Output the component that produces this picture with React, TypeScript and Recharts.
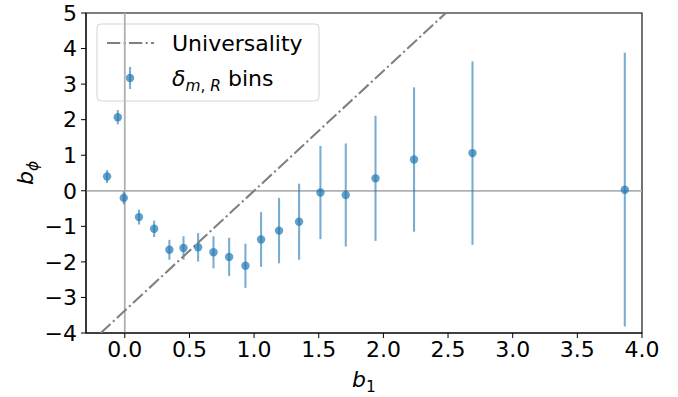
import React from 'react';
import {
  ScatterChart,
  Scatter,
  XAxis,
  YAxis,
  ErrorBar,
  ReferenceLine,
  ReferenceArea,
  Label,
} from 'recharts';

// b1 bin centres, measured b_phi and its 1-sigma error
const b1Values = [
  -0.137, -0.054, -0.008, 0.11, 0.227, 0.345, 0.454, 0.567, 0.686, 0.807,
  0.933, 1.054, 1.193, 1.348, 1.513, 1.709, 1.939, 2.237, 2.689, 3.867,
];
const bPhiValues = [
  0.4, 2.07, -0.2, -0.74, -1.07, -1.66, -1.61, -1.59, -1.73, -1.86,
  -2.11, -1.37, -1.12, -0.87, -0.05, -0.12, 0.35, 0.88, 1.06, 0.03,
];
const bPhiErrors = [
  0.18, 0.2, 0.18, 0.21, 0.23, 0.28, 0.33, 0.4, 0.45, 0.54,
  0.62, 0.77, 0.92, 1.07, 1.31, 1.45, 1.76, 2.03, 2.58, 3.85,
];

// universality relation b_phi = 2 * 1.686 * (b1 - 1), endpoints at the frame
const universalityX = [-0.186, 2.483];
const universalityY = [-4, 5];

const xTicks = [0, 0.5, 1, 1.5, 2, 2.5, 3, 3.5, 4];
const yTicks = [-4, -3, -2, -1, 0, 1, 2, 3, 4, 5];

const bins = b1Values.map((b1, i) => ({ b1, bphi: bPhiValues[i], err: bPhiErrors[i] }));
const uniLine = universalityX.map((b1, i) => ({ b1, bphi: universalityY[i] }));

const font = 'DejaVu Sans, sans-serif';
const fontSize = 22;
const blue = '#1f77b4';
const dashDot = '13.3 3.3 2.1 3.3';

const fmt = (v: number, digits: number) =>
  (v < 0 ? '\u2212' : '') + Math.abs(v).toFixed(digits);

function XLabel(props: any) {
  const { viewBox } = props;
  const cx = viewBox.x + viewBox.width / 2;
  return (
    <text x={cx} y={387} textAnchor="middle" fontFamily={font} fontSize={fontSize} fill="#000">
      <tspan fontStyle="italic">b</tspan>
      <tspan fontSize={fontSize * 0.7} dy={5}>1</tspan>
    </text>
  );
}

function YLabel(props: any) {
  const { viewBox } = props;
  const cy = viewBox.y + viewBox.height / 2;
  return (
    <text
      x={33}
      y={cy}
      transform={`rotate(-90 33 ${cy})`}
      textAnchor="middle"
      fontFamily={font}
      fontSize={fontSize}
      fill="#000"
    >
      <tspan fontStyle="italic">b</tspan>
      <tspan fontStyle="italic" fontSize={fontSize * 0.7} dy={5}>ϕ</tspan>
    </text>
  );
}

function Legend() {
  return (
    <g fontFamily={font} fontSize={fontSize}>
      <rect x={97} y={24} width={222} height={77} rx={4} fill="#fff" fillOpacity={0.8} stroke="#d5d5d5" />
      <line x1={107} y1={43} x2={154} y2={43} stroke="#808080" strokeWidth={2.08} strokeDasharray={dashDot} />
      <text x={172} y={51}>Universality</text>
      <line x1={130} y1={67} x2={130} y2={89} stroke={blue} strokeOpacity={0.6} strokeWidth={2.08} />
      <circle cx={130} cy={78} r={4.2} fill={blue} fillOpacity={0.7} />
      <text x={172} y={86}>
        <tspan fontStyle="italic">δ</tspan>
        <tspan fontStyle="italic" fontSize={fontSize * 0.7} dy={5}>m</tspan>
        <tspan fontSize={fontSize * 0.7}>, </tspan>
        <tspan fontStyle="italic" fontSize={fontSize * 0.7}>R</tspan>
        <tspan dy={-5}> bins</tspan>
      </text>
    </g>
  );
}

const dot = (props: any) => (
  <circle cx={props.cx} cy={props.cy} r={4.2} fill={blue} fillOpacity={0.7} />
);

export default function App() {
  return (
    <div style={{ position: 'absolute', left: 0, top: 0, background: '#fff' }}>
      <ScatterChart width={678} height={397} margin={{ top: 13, right: 36, bottom: 24, left: 26 }}>
        <XAxis
          type="number"
          dataKey="b1"
          domain={[-0.3, 4]}
          ticks={xTicks}
          allowDataOverflow
          tickFormatter={(v) => fmt(v, 1)}
          tick={{ fontFamily: font, fontSize, fill: '#000' }}
          tickSize={5}
          tickMargin={3}
          stroke="#000"
          height={40}
        >
          <Label content={<XLabel />} />
        </XAxis>
        <YAxis
          type="number"
          dataKey="bphi"
          domain={[-4, 5]}
          ticks={yTicks}
          allowDataOverflow
          tickFormatter={(v) => fmt(v, 0)}
          tick={{ fontFamily: font, fontSize, fill: '#000' }}
          tickSize={5}
          tickMargin={4}
          stroke="#000"
          width={60}
        >
          <Label content={<YLabel />} />
        </YAxis>
        <ReferenceLine y={0} stroke="#b0b0b0" strokeWidth={1.8} />
        <ReferenceLine x={0} stroke="#b0b0b0" strokeWidth={1.8} />
        <Scatter
          data={uniLine}
          line={{ stroke: '#808080', strokeWidth: 2.08, strokeDasharray: dashDot }}
          shape={() => null}
          isAnimationActive={false}
        />
        <Scatter data={bins} shape={dot} isAnimationActive={false}>
          <ErrorBar dataKey="err" direction="y" width={0} stroke={blue} strokeOpacity={0.6} strokeWidth={2.08} />
        </Scatter>
        <ReferenceArea x1={-0.3} x2={4} y1={-4} y2={5} fill="none" stroke="#000" strokeWidth={1.1} ifOverflow="visible" />
        <Legend />
      </ScatterChart>
    </div>
  );
}
